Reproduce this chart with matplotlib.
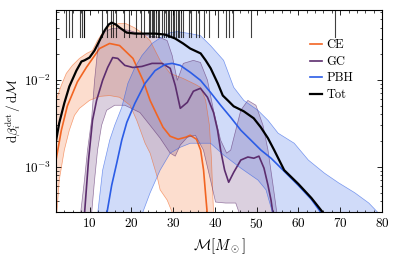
import numpy as np
import matplotlib
matplotlib.use("Agg")
import matplotlib.pyplot as plt

plt.rcParams['font.family'] = 'serif'
plt.rcParams['font.serif'] = ['cmr10', 'DejaVu Serif']
plt.rcParams['mathtext.fontset'] = 'cm'
plt.rcParams['axes.formatter.use_mathtext'] = True

# chirp masses of detected events (rug at the top)
events = [4.4, 5.2, 5.7, 7.8, 8.3, 8.6, 8.8, 13.1, 14.3, 15.1, 15.6, 16.3, 18.2, 19.4,
          21.1, 22.3, 23.0, 24.2, 24.5, 25.0, 25.2, 25.4, 25.9, 26.4, 26.7, 27.4,
          27.9, 28.3, 28.8, 29.1, 29.6, 30.0, 30.3, 30.8, 31.2, 31.5, 32.0, 32.4,
          33.7, 34.4, 35.6, 36.3, 37.5, 38.7, 40.7, 42.6, 43.3, 44.3, 48.6, 68.7]

# CE channel
ce_m = [2.0, 3.24, 4.69, 7.1, 9.28, 11.2, 12.4, 14.8, 17.2, 20.4, 22.8, 24.5, 26.2,
        27.6, 29.3, 31.2, 33.0, 34.1, 35.6, 36.6, 37.3, 37.8, 38.2]
ce_med = [1.2e-3, 2.6e-3, 5.0e-3, 9.5e-3, 1.4e-2, 1.9e-2, 2.3e-2, 2.63e-2, 2.49e-2,
          1.77e-2, 9.9e-3, 5.8e-3, 3.9e-3, 2.84e-3, 2.24e-3, 2.07e-3, 2.18e-3,
          2.3e-3, 2.07e-3, 1.55e-3, 9.1e-4, 4.7e-4, 2.8e-4]
ce_hi_m = [2.0, 3.24, 4.45, 5.9, 7.6, 9.3, 10.7, 11.9, 13.0, 14.2, 15.4, 17.0, 18.7,
           20.7, 22.5, 24.5, 26.9, 29.3, 32.4, 35.3, 36.6, 37.8, 38.7, 39.2, 39.7]
ce_hi = [5.8e-3, 8.65e-3, 1.19e-2, 1.47e-2, 1.77e-2, 2.02e-2, 2.18e-2, 2.84e-2,
         3.42e-2, 4.01e-2, 4.23e-2, 4.46e-2, 4.46e-2, 4.01e-2, 3.51e-2, 2.84e-2,
         1.68e-2, 1.19e-2, 1.04e-2, 8.9e-3, 8.2e-3, 5.8e-3, 3.0e-3, 1.19e-3, 2.8e-4]
ce_lo_m = [2.16, 2.76, 3.97, 5.17, 6.4, 7.6, 10.0, 12.4, 14.8, 17.2, 19.7, 21.3, 23.3,
           24.5, 26.2, 26.9, 28.6, 30.0]
ce_lo = [2.8e-4, 7.0e-4, 1.55e-3, 2.63e-3, 3.9e-3, 4.7e-3, 5.8e-3, 6.45e-3, 6.6e-3,
         6.3e-3, 5.1e-3, 3.42e-3, 1.86e-3, 1.43e-3, 7.6e-4, 5.4e-4, 4.1e-4, 2.8e-4]

# GC channel
gc_m = [8.79, 9.76, 10.72, 11.69, 13.14, 14.34, 15.55, 16.76, 18.45, 20.38, 22.55,
        24.96, 27.38, 29.31, 30.52, 31.72, 33.41, 34.86, 36.55, 38.24, 39.69, 40.65,
        41.38, 42.34, 43.31, 44.52, 46.21, 47.9, 49.34, 50.55, 51.76, 52.72, 53.45, 53.93]
gc_med = [2.8e-4, 1.19e-3, 3.42e-3, 5.8e-3, 9.9e-3, 1.39e-2, 1.81e-2, 1.77e-2, 1.47e-2,
          1.39e-2, 1.43e-2, 1.55e-2, 1.55e-2, 1.36e-2, 8.65e-3, 4.7e-3, 5.5e-3, 7.4e-3,
          8.0e-3, 6.3e-3, 4.2e-3, 2.63e-3, 1.55e-3, 9.1e-4, 6.6e-4, 8.6e-4, 1.19e-3,
          1.29e-3, 1.25e-3, 1.32e-3, 9.6e-4, 6.1e-4, 4.1e-4, 2.8e-4]
gc_hi_m = [7.83, 8.79, 9.52, 10.48, 11.21, 11.93, 12.66, 13.62, 15.31, 17.24, 19.65,
           22.07, 24.48, 26.9, 28.59, 29.79, 31.0, 31.72, 32.45, 34.86, 36.55, 38.24,
           39.69, 41.38, 42.83, 43.79, 45.0, 46.21, 47.9, 49.83, 51.52, 52.72, 53.93, 54.9]
gc_hi = [2.8e-4, 7.0e-4, 1.55e-3, 3.42e-3, 9.9e-3, 2.18e-2, 3.2e-2, 3.6e-2, 3.9e-2,
         3.9e-2, 3.7e-2, 3.4e-2, 3.2e-2, 3.08e-2, 2.84e-2, 1.91e-2, 9.9e-3, 1.22e-2,
         1.55e-2, 1.68e-2, 1.59e-2, 9.9e-3, 4.46e-3, 2.02e-3, 1.43e-3, 1.55e-3, 2.63e-3,
         4.46e-3, 5.8e-3, 5.1e-3, 3.0e-3, 1.55e-3, 6.1e-4, 2.8e-4]
gc_lo_m = [10.48, 11.21, 11.93, 12.9, 14.1, 16.03, 18.45, 22.07, 24.48, 26.9, 29.31,
           30.52, 31.72, 33.41, 35.34, 37.27, 38.96, 40.17, 42.59, 45.0, 45.96]
gc_lo = [2.8e-4, 7.0e-4, 1.55e-3, 3.0e-3, 4.46e-3, 5.1e-3, 5.1e-3, 4.2e-3, 3.0e-3,
         2.13e-3, 1.43e-3, 1.32e-3, 1.77e-3, 2.18e-3, 2.3e-3, 1.55e-3, 7.0e-4, 3.9e-4,
         3.8e-4, 3.8e-4, 2.8e-4]

# PBH channel
pbh_m = [14.1, 15.31, 16.52, 17.72, 18.93, 20.86, 23.28, 25.69, 28.1, 29.79, 31.72,
         34.14, 36.55, 38.96, 41.38, 43.79, 46.21, 48.62, 51.03, 53.45, 56.34, 59.96,
         63.1, 65.76]
pbh_med = [2.8e-4, 6.1e-4, 1.1e-3, 2.02e-3, 3.24e-3, 5.37e-3, 9.1e-3, 1.28e-2, 1.51e-2,
           1.55e-2, 1.47e-2, 1.22e-2, 9.9e-3, 7.18e-3, 5.1e-3, 3.7e-3, 2.63e-3, 2.02e-3,
           1.55e-3, 1.25e-3, 9.1e-4, 6.1e-4, 4.2e-4, 2.8e-4]
pbh_hi_m = [11.93, 13.14, 14.83, 16.03, 17.72, 19.17, 20.86, 22.55, 24.96, 27.38, 29.31,
            31.0, 34.14, 36.55, 38.96, 42.1, 44.52, 46.93, 50.31, 52.72, 55.14, 59.0,
            62.38, 66.24, 69.62, 73.48, 76.86, 79.5]
pbh_hi = [2.8e-4, 9.1e-4, 2.02e-3, 3.0e-3, 4.83e-3, 9.1e-3, 1.39e-2, 1.91e-2, 2.63e-2,
          3.16e-2, 3.51e-2, 3.6e-2, 3.42e-2, 3.24e-2, 2.49e-2, 1.68e-2, 8.2e-3, 5.8e-3,
          4.46e-3, 3.42e-3, 2.43e-3, 1.86e-3, 1.19e-3, 8.4e-4, 6.5e-4, 5.0e-4, 3.8e-4, 2.8e-4]
pbh_lo_m = [22.55, 24.48, 26.9, 29.31, 31.72, 34.14, 38.96, 42.1, 46.21, 50.31, 52.24, 53.93]
pbh_lo = [2.8e-4, 4.95e-4, 9.1e-4, 1.43e-3, 1.67e-3, 1.86e-3, 1.86e-3, 1.36e-3, 9.6e-4,
          7.0e-4, 5.4e-4, 2.8e-4]

# total
tot_m = [2.0, 2.76, 3.97, 5.17, 6.86, 8.07, 8.79, 10.0, 11.2, 12.4, 13.6, 14.6, 15.3,
         16.3, 17.2, 18.9, 20.9, 23.3, 25.7, 28.1, 30.5, 32.4, 34.1, 36.6, 37.8, 39.0,
         40.7, 41.9, 43.1, 44.5, 46.9, 49.3, 51.0, 52.7, 54.2, 56.6, 60.0, 63.1, 66.0]
tot = [2.0e-3, 3.2e-3, 5.4e-3, 8.4e-3, 1.28e-2, 1.63e-2, 1.68e-2, 1.81e-2, 2.18e-2,
       2.84e-2, 3.71e-2, 4.35e-2, 4.58e-2, 4.35e-2, 4.01e-2, 3.51e-2, 3.42e-2, 3.42e-2,
       3.42e-2, 3.33e-2, 3.0e-2, 2.63e-2, 2.3e-2, 2.02e-2, 1.68e-2, 1.36e-2, 9.1e-3,
       6.6e-3, 5.8e-3, 4.96e-3, 4.35e-3, 3.61e-3, 2.84e-3, 2.13e-3, 1.55e-3, 9.1e-4,
       6.3e-4, 4.35e-4, 2.9e-4]

ce_col = '#f26522'
gc_col = '#5c2d6e'
pbh_col = '#2b5ce6'

fig, ax = plt.subplots(figsize=(3.95, 2.7), dpi=100)
fig.subplots_adjust(left=0.142, right=0.967, bottom=0.215, top=0.963)

def band(m_lo, lo, m_hi, hi, med_m, med, color, label):
    xs = np.r_[m_hi, m_lo[::-1]]
    ys = np.r_[hi, lo[::-1]]
    ax.fill(xs, ys, color=color, alpha=0.22, lw=0)
    ax.plot(m_hi, hi, color=color, lw=0.5, alpha=0.6)
    ax.plot(m_lo, lo, color=color, lw=0.5, alpha=0.6)
    ax.plot(med_m, med, color=color, lw=1.2, label=label)

band(ce_lo_m, ce_lo, ce_hi_m, ce_hi, ce_m, ce_med, ce_col, 'CE')
band(gc_lo_m, gc_lo, gc_hi_m, gc_hi, gc_m, gc_med, gc_col, 'GC')
band(pbh_lo_m, pbh_lo, pbh_hi_m, pbh_hi, pbh_m, pbh_med, pbh_col, 'PBH')
ax.plot(tot_m, tot, color='k', lw=1.6, label='Tot')

for e in events:
    ax.axvline(e, ymin=0.865, ymax=1.0, color='k', lw=0.8, alpha=0.75)

ax.set_yscale('log')
ax.set_xlim(2, 80)
ax.set_ylim(3e-4, 6.4e-2)
ax.set_xticks([10, 20, 30, 40, 50, 60, 70, 80])
ax.xaxis.set_minor_locator(matplotlib.ticker.MultipleLocator(2))
ax.tick_params(which='both', direction='in', top=True, right=True, labelsize=9.5)
ax.tick_params(which='major', length=3.5, width=0.6)
ax.tick_params(which='minor', length=1.8, width=0.5)
for s in ax.spines.values():
    s.set_linewidth(0.8)

ax.set_xlabel(r'$\mathcal{M}[M_\odot]$', fontsize=10.5)
ax.set_ylabel(r'$\mathrm{d}\beta_i^{\rm det}\,/\,\mathrm{d}\mathcal{M}$', fontsize=9.5)
ax.yaxis.set_label_coords(-0.105, 0.5)

ax.legend(loc='upper left', bbox_to_anchor=(0.78, 0.855), frameon=False,
          fontsize=9, handlelength=0.9, handletextpad=0.4, labelspacing=0.35,
          borderpad=0, borderaxespad=0)

fig.savefig('out.png', dpi=100)
